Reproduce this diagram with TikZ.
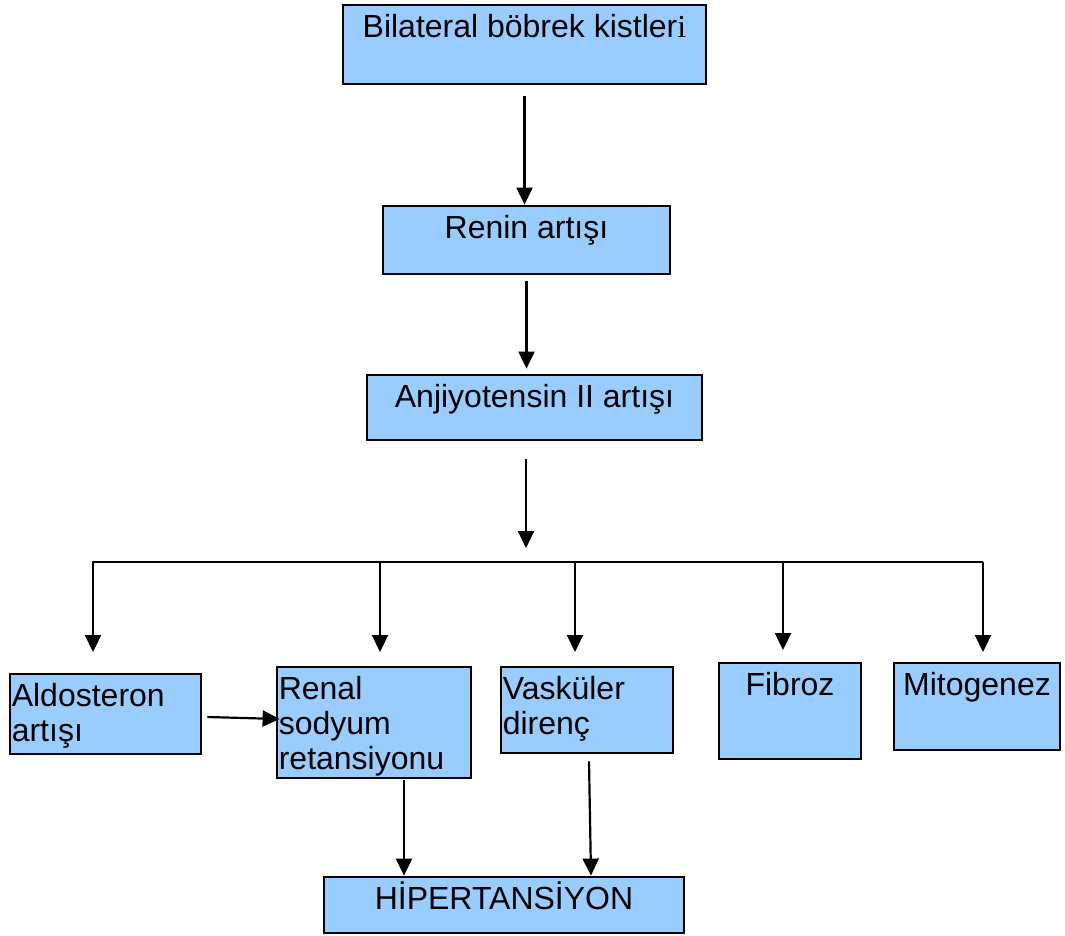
\documentclass[tikz,border=0pt]{standalone}
\usepackage{fontspec}
\setmainfont{Liberation Sans}
\newfontfamily\serifi{Liberation Serif}
\usepackage{xcolor}
\usepackage{tikz}
\usetikzlibrary{arrows.meta}
\definecolor{boxblue}{RGB}{153,204,255}

\begin{document}
\begin{tikzpicture}[
    x=1pt, y=-1pt,
    box/.style={rectangle, draw, fill=boxblue, line width=2.8pt},
    txt/.style={inner sep=0pt, yshift=-11pt, font=\fontsize{32}{35}\selectfont},
    txtc/.style={txt, anchor=north, text height=23pt},
    txtl/.style={txt, anchor=north west, align=left, xshift=3pt},
    arrow/.style={-{Triangle[width=16pt,length=17pt]}, line width=2.2pt},
]
\useasboundingbox (0,0) rectangle (1065,936);

% Chain
\node[box, minimum width=363pt, minimum height=79pt, label={[txtc]north:Bilateral böbrek kistler{\serifi i}}] (bilateral) at (524.5,44.5) {};
\node[box, minimum width=287pt, minimum height=68pt, label={[txtc]north:Renin artışı}] (renin) at (526.5,240) {};
\node[box, minimum width=335pt, minimum height=65pt, label={[txtc]north:Anjiyotensin II artışı}] (anjiyo) at (534.5,407.5) {};

% Effects
\node[box, minimum width=191pt, minimum height=80pt, label={[txtl]north west:Aldosteron\\artışı}] (aldo) at (105.5,714) {};
\node[box, minimum width=194pt, minimum height=111pt, label={[txtl]north west:Renal\\sodyum\\retansiyonu}] (renal) at (374,722.5) {};
\node[box, minimum width=172pt, minimum height=86pt, label={[txtl]north west:Vasküler\\direnç}] (vask) at (587,710) {};
\node[box, minimum width=142pt, minimum height=96pt, label={[txtc]north:Fibroz}] (fibroz) at (790,711) {};
\node[box, minimum width=166pt, minimum height=87pt, label={[txtc]north:Mitogenez}] (mito) at (977,706.5) {};

% Result
\node[box, minimum width=360pt, minimum height=56pt, label={[txtc]north:HİPERTANSİYON}] (hip) at (504,905) {};

% Arrows
\draw[arrow] ([yshift=-11pt]bilateral.south) -- (bilateral.south |- renin.north);
\draw[arrow, shorten >=5pt] ([yshift=-6pt]renin.south) -- (renin.south |- anjiyo.north);

\coordinate (split) at (526,548);
\draw[arrow] ([yshift=-18pt]split |- anjiyo.south) -- (split);

\coordinate (busl) at (93,562);
\coordinate (busr) at (983,562);
\coordinate (d1) at (93,652);
\coordinate (d2) at (380,652);
\coordinate (d3) at (575,652);
\coordinate (d4) at (783,650);
\coordinate (d5) at (983,652);
\draw[arrow] (busr) -- (busl) -- (d1);
\draw[arrow] (d2 |- busl) -- (d2);
\draw[arrow] (d3 |- busl) -- (d3);
\draw[arrow] (d4 |- busl) -- (d4);
\draw[arrow] (busr) -- (d5);

\draw[arrow] ([xshift=5pt,yshift=-3pt]aldo.east) -- ([xshift=4pt,yshift=3.5pt]renal.west);
\draw[arrow] ([xshift=30pt,yshift=-1pt]renal.south) -- ([xshift=30pt]renal.south |- hip.north);
\draw[arrow] ([xshift=2pt,yshift=-7pt]vask.south) -- ([xshift=4pt]vask.south |- hip.north);

\end{tikzpicture}
\end{document}
